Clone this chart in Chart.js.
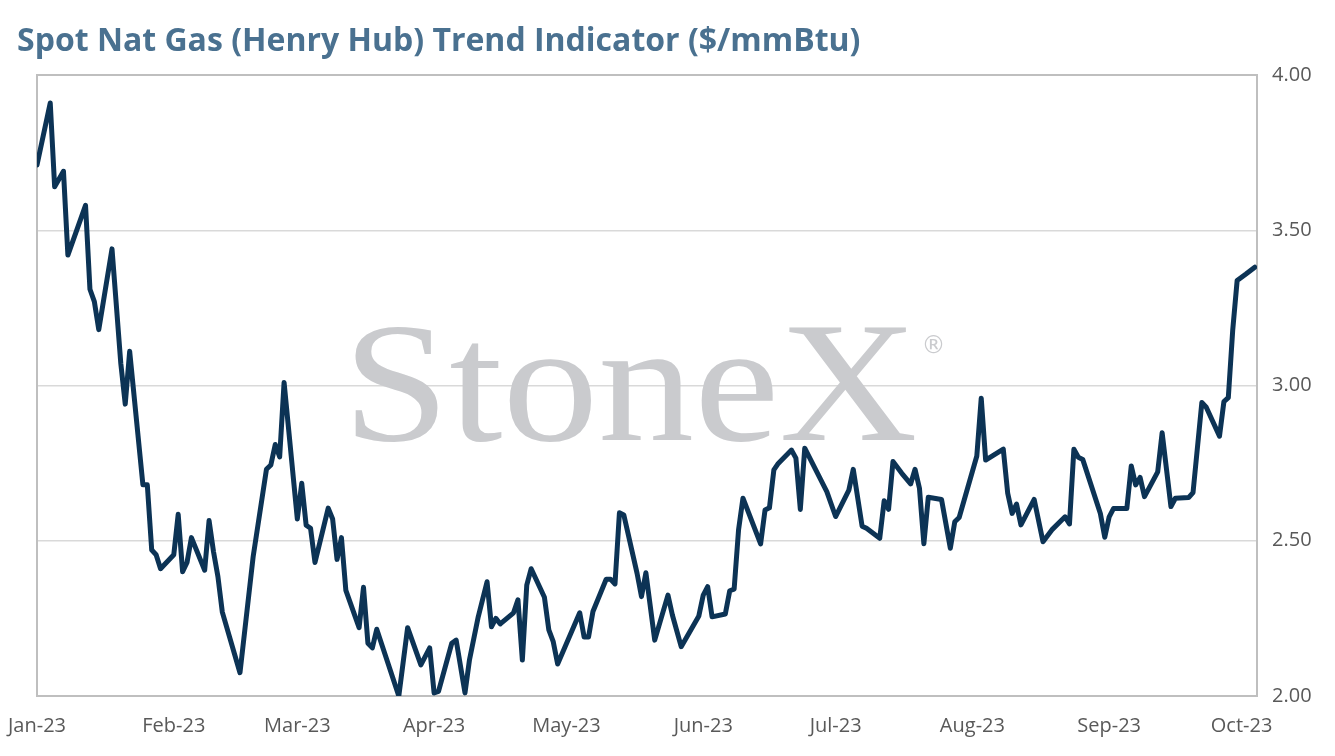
<!DOCTYPE html>
<html>
<head>
<meta charset="utf-8">
<title>Spot Nat Gas (Henry Hub) Trend Indicator</title>
<script src="https://cdn.jsdelivr.net/npm/chart.js@4.4.0/dist/chart.umd.min.js"></script>
<style>
  html, body { margin: 0; padding: 0; background: #ffffff; }
  #wrap { width: 1335px; height: 756px; }
</style>
</head>
<body>
<div id="wrap"><canvas id="chart" width="1335" height="756"></canvas></div>
<script>
// Readings taken off the chart, one per turning point of the line
const dates = [
  '2023-01-01','2023-01-04','2023-01-05','2023-01-07','2023-01-08','2023-01-12','2023-01-13','2023-01-14',
  '2023-01-15','2023-01-18','2023-01-20','2023-01-21','2023-01-22','2023-01-25','2023-01-26','2023-01-27',
  '2023-01-28','2023-01-29','2023-02-01','2023-02-02','2023-02-03','2023-02-04','2023-02-05','2023-02-08',
  '2023-02-09','2023-02-10','2023-02-11','2023-02-12','2023-02-16','2023-02-19','2023-02-22','2023-02-23',
  '2023-02-24','2023-02-25','2023-02-26','2023-03-01','2023-03-02','2023-03-03','2023-03-04','2023-03-05',
  '2023-03-08','2023-03-09','2023-03-10','2023-03-11','2023-03-12','2023-03-15','2023-03-16','2023-03-17',
  '2023-03-18','2023-03-19','2023-03-24','2023-03-26','2023-03-29','2023-03-31','2023-04-01','2023-04-02',
  '2023-04-05','2023-04-06','2023-04-08','2023-04-09','2023-04-11','2023-04-13','2023-04-14','2023-04-15',
  '2023-04-16','2023-04-19','2023-04-20','2023-04-21','2023-04-22','2023-04-23','2023-04-26','2023-04-27',
  '2023-04-28','2023-04-29','2023-05-04','2023-05-05','2023-05-06','2023-05-07','2023-05-10','2023-05-11',
  '2023-05-12','2023-05-13','2023-05-14','2023-05-17','2023-05-18','2023-05-19','2023-05-21','2023-05-24',
  '2023-05-25','2023-05-27','2023-05-31','2023-06-01','2023-06-02','2023-06-03','2023-06-06','2023-06-07',
  '2023-06-08','2023-06-09','2023-06-10','2023-06-14','2023-06-15','2023-06-16','2023-06-17','2023-06-18',
  '2023-06-21','2023-06-22','2023-06-23','2023-06-24','2023-06-29','2023-07-01','2023-07-04','2023-07-05',
  '2023-07-07','2023-07-08','2023-07-11','2023-07-12','2023-07-13','2023-07-14','2023-07-16','2023-07-18',
  '2023-07-19','2023-07-20','2023-07-21','2023-07-22','2023-07-25','2023-07-27','2023-07-28','2023-07-29',
  '2023-08-02','2023-08-03','2023-08-04','2023-08-08','2023-08-09','2023-08-10','2023-08-11','2023-08-12',
  '2023-08-15','2023-08-17','2023-08-19','2023-08-22','2023-08-23','2023-08-24','2023-08-25','2023-08-26',
  '2023-08-30','2023-08-31','2023-09-01','2023-09-02','2023-09-05','2023-09-06','2023-09-07','2023-09-08',
  '2023-09-09','2023-09-12','2023-09-13','2023-09-15','2023-09-16','2023-09-19','2023-09-20','2023-09-22',
  '2023-09-23','2023-09-26','2023-09-27','2023-09-28','2023-09-29','2023-09-30','2023-10-02','2023-10-04'
];

const prices = [
  3.71, 3.91, 3.64, 3.69, 3.42, 3.58, 3.31, 3.27,
  3.18, 3.44, 3.07, 2.94, 3.11, 2.68, 2.68, 2.47,
  2.455, 2.41, 2.455, 2.585, 2.40, 2.43, 2.51, 2.405,
  2.565, 2.465, 2.385, 2.27, 2.075, 2.45, 2.73, 2.744,
  2.81, 2.77, 3.01, 2.57, 2.685, 2.55, 2.54, 2.43,
  2.605, 2.57, 2.44, 2.51, 2.34, 2.22, 2.35, 2.17,
  2.155, 2.215, 2.00, 2.22, 2.10, 2.155, 2.01, 2.015,
  2.17, 2.18, 2.01, 2.115, 2.255, 2.368, 2.223, 2.25,
  2.232, 2.268, 2.31, 2.116, 2.357, 2.41, 2.318, 2.213,
  2.175, 2.103, 2.268, 2.19, 2.19, 2.272, 2.376, 2.376,
  2.361, 2.59, 2.583, 2.395, 2.32, 2.397, 2.18, 2.325,
  2.261, 2.159, 2.258, 2.325, 2.352, 2.255, 2.264, 2.339,
  2.344, 2.535, 2.637, 2.49, 2.599, 2.606, 2.728, 2.749,
  2.792, 2.766, 2.601, 2.798, 2.658, 2.578, 2.663, 2.73,
  2.547, 2.54, 2.508, 2.629, 2.601, 2.755, 2.717, 2.683,
  2.73, 2.669, 2.49, 2.64, 2.633, 2.476, 2.561, 2.575,
  2.773, 2.959, 2.76, 2.795, 2.653, 2.588, 2.618, 2.551,
  2.633, 2.497, 2.535, 2.577, 2.554, 2.795, 2.769, 2.762,
  2.588, 2.511, 2.577, 2.604, 2.604, 2.741, 2.68, 2.704,
  2.642, 2.722, 2.848, 2.61, 2.637, 2.639, 2.655, 2.945,
  2.93, 2.837, 2.948, 2.961, 3.179, 3.338, 3.359, 3.381
];

const monthStarts = ['2023-01-01','2023-02-01','2023-03-01','2023-04-01','2023-05-01',
                     '2023-06-01','2023-07-01','2023-08-01','2023-09-01','2023-10-01'];
const monthLabels = ['Jan-23','Feb-23','Mar-23','Apr-23','May-23','Jun-23','Jul-23','Aug-23','Sep-23','Oct-23'];
const yTicks = [2.00, 2.50, 3.00, 3.50, 4.00];
const lastDay = '2023-10-04';
const titleText = 'Spot Nat Gas (Henry Hub) Trend Indicator ($/mmBtu)';

// days since 1 Jan 2023
function dayOf(s) {
  const p = s.split('-');
  return (Date.UTC(+p[0], +p[1] - 1, +p[2]) - Date.UTC(2023, 0, 1)) / 86400000;
}

const points = dates.map((d, i) => ({ x: dayOf(d), y: prices[i] }));

// title, watermark and the box round the plot
const plotFrame = {
  id: 'plotFrame',
  beforeDatasetsDraw(chart) {
    const { ctx, chartArea: a } = chart;
    const W = a.right - a.left, H = a.bottom - a.top;

    ctx.save();
    ctx.fillStyle = '#4a7190';
    ctx.font = 'bold 32px "Open Sans", sans-serif';
    ctx.textBaseline = 'alphabetic';
    ctx.fillText(titleText, 17, 51);
    ctx.restore();

    ctx.save();
    ctx.fillStyle = '#cacbce';
    ctx.font = '172px "Liberation Serif", serif';
    ctx.textBaseline = 'alphabetic';
    const m = ctx.measureText('StoneX');
    const w = m.actualBoundingBoxLeft + m.actualBoundingBoxRight;
    const target = W * 0.459;
    ctx.translate(a.left + W * 0.2607, a.top + H * 0.588);
    ctx.scale(target / w, 1);
    ctx.fillText('StoneX', m.actualBoundingBoxLeft, 0);
    ctx.restore();

    ctx.save();
    ctx.fillStyle = '#cacbce';
    ctx.font = '24px "DejaVu Sans", sans-serif';
    ctx.textBaseline = 'middle';
    ctx.fillText('\u00AE', a.left + W * 0.725, a.top + H * 0.438);
    ctx.restore();

    ctx.save();
    ctx.strokeStyle = '#bfbfbf';
    ctx.lineWidth = 2;
    ctx.strokeRect(a.left, a.top, W, H);
    ctx.restore();
  }
};

new Chart(document.getElementById('chart'), {
  type: 'line',
  data: {
    datasets: [{
      data: points,
      borderColor: '#0c3355',
      borderWidth: 5,
      pointRadius: 0,
      tension: 0,
      borderJoinStyle: 'round',
      borderCapStyle: 'round'
    }]
  },
  options: {
    responsive: false,
    animation: false,
    layout: { padding: { left: 0, right: 0, top: 75, bottom: 0 } },
    plugins: {
      legend: { display: false },
      tooltip: { enabled: false },
      title: { display: false }
    },
    scales: {
      x: {
        type: 'linear',
        min: 0,
        max: dayOf(lastDay) + 0.5,
        afterBuildTicks(scale) {
          scale.ticks = monthStarts.map(d => ({ value: dayOf(d) }));
        },
        afterFit(scale) {
          scale.height = 60;
          scale.paddingLeft = 37;
        },
        ticks: {
          autoSkip: false,
          maxRotation: 0,
          color: '#595959',
          padding: 10,
          font: { family: '"Open Sans", sans-serif', size: 20 },
          callback: (v, i) => monthLabels[i]
        },
        grid: { display: false },
        border: { display: false }
      },
      y: {
        position: 'right',
        min: 2,
        max: 4,
        afterBuildTicks(scale) {
          scale.ticks = yTicks.map(v => ({ value: v }));
        },
        afterFit(scale) { scale.width = 78; },
        ticks: {
          color: '#595959',
          padding: 15,
          font: { family: '"Open Sans", sans-serif', size: 20 },
          callback: v => v.toFixed(2)
        },
        grid: {
          color: '#d9d9d9',
          lineWidth: 1.5,
          drawTicks: false
        },
        border: { display: false }
      }
    }
  },
  plugins: [plotFrame]
});
</script>
</body>
</html>
